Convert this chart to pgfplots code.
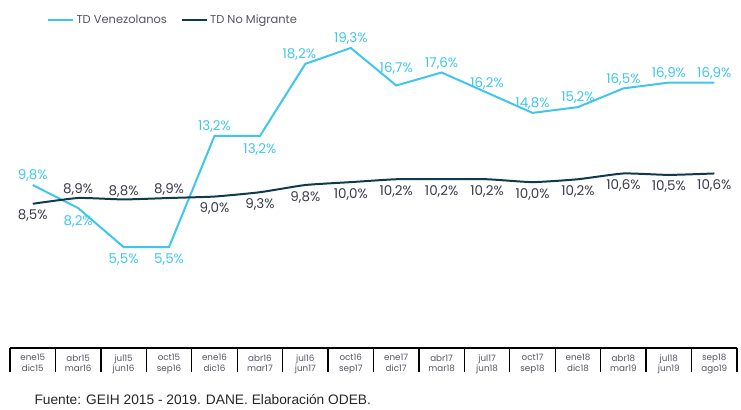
\documentclass[border=0pt]{standalone}
\usepackage{pgfplots}
\pgfplotsset{compat=1.18}
\usepackage{fontspec}
\setmainfont{Poppins}
\newfontfamily\arialf{Liberation Sans}
\definecolor{ven}{HTML}{3FC6EE}
\definecolor{nom}{HTML}{0F3A4C}
\definecolor{nomlab}{HTML}{3A3B4A}
\definecolor{leggray}{HTML}{555560}

\pgfplotstableread{
x y
0 9.8
1 8.2
2 5.5
3 5.5
4 13.2
5 13.2
6 18.2
7 19.3
8 16.7
9 17.6
10 16.2
11 14.8
12 15.2
13 16.5
14 16.9
15 16.9
}\ven
\pgfplotstableread{
x y
0 8.5
1 8.9
2 8.8
3 8.9
4 9.0
5 9.3
6 9.8
7 10.0
8 10.2
9 10.2
10 10.2
11 10.0
12 10.2
13 10.6
14 10.5
15 10.6
}\nom

\pgfplotsset{
  lab/.style={draw=none, forget plot, nodes near coords, point meta=explicit,
    nodes near coords={\pgfmathprintnumber[fixed,fixed zerofill,precision=1,use comma,assume math mode=true]{\pgfplotspointmeta}\%}},
}

\begin{document}
\begin{tikzpicture}[x=1bp,y=1bp]
\path[use as bounding box] (-10,-61) rectangle (731,348);
\begin{axis}[
  at={(0,0)}, anchor=south west,
  scale only axis,
  width=727bp, height=313bp,
  xmin=-0.5, xmax=15.5,
  ymin=-1.5, ymax=20.2,
  /pgf/number format/assume math mode=true,
  axis x line=bottom, axis y line=none,
  axis line style={-, black, line width=1.3pt},
  xtick={0,...,15},
  major tick length=0pt,
  xticklabels={{ene15\\dic15},{abr15\\mar16},{jul15\\jun16},{oct15\\sep16},{ene16\\dic16},{abr16\\mar17},{jul16\\jun17},{oct16\\sep17},{ene17\\dic17},{abr17\\mar18},{jul17\\jun18},{oct17\\sep18},{ene18\\dic18},{abr18\\mar19},{jul18\\jun19},{sep18\\ago19}},
  xticklabel style={align=center, font=\fontsize{8.8}{10.5}\selectfont, text=leggray},
  tick label style={yshift=-3bp},
  extra x ticks={-0.5,0.5,...,15.5},
  extra x tick labels={},
  extra x tick style={tick align=outside, major tick length=24bp, tick style={black, line width=1.3pt}},
  legend style={at={(0.047,1)}, anchor=south west, yshift=6bp, draw=none, fill=none,
    legend columns=2, font=\fontsize{11.5}{13}\selectfont, text=leggray,
    /tikz/every even column/.append style={column sep=12bp},
    /tikz/every odd column/.append style={column sep=0bp}},
  legend cell align=left,
  legend image code/.code={\draw[#1, line width=2.2pt] (0bp,0bp) -- (25bp,0bp);},
  clip=false,
]
\addplot[ven, line width=2pt] table[x=x,y=y] {\ven};
\addlegendentry{TD Venezolanos}
\addplot[nom, line width=2pt, smooth, tension=0.3] table[x=x,y=y] {\nom};
\addlegendentry{TD No Migrante}

% Venezolanos labels above
\addplot[lab,
  every node near coord/.style={anchor=south, text=ven, font=\fontsize{13.5}{15}\selectfont, yshift=2bp, inner sep=1bp}]
  table[x=x,y=y,meta=y] {
x y
0 9.8
4 13.2
7 19.3
9 17.6
10 16.2
11 14.8
12 15.2
13 16.5
14 16.9
15 16.9
};
\addplot[lab,
  every node near coord/.style={anchor=south, text=ven, font=\fontsize{13.5}{15}\selectfont, yshift=2bp, xshift=-6bp, inner sep=1bp}]
  table[x=x,y=y,meta=y] {
x y
6 18.2
};
\addplot[lab,
  every node near coord/.style={anchor=south, text=ven, font=\fontsize{13.5}{15}\selectfont, yshift=10bp, inner sep=1bp}]
  table[x=x,y=y,meta=y] {
x y
8 16.7
};
% Venezolanos labels below
\addplot[lab,
  every node near coord/.style={anchor=north, text=ven, font=\fontsize{13.5}{15}\selectfont, yshift=-6bp, inner sep=1bp}]
  table[x=x,y=y,meta=y] {
x y
1 8.2
2 5.5
3 5.5
5 13.2
};
% No migrante labels above
\addplot[lab,
  every node near coord/.style={anchor=south, text=nomlab, font=\fontsize{13.5}{15}\selectfont, yshift=1bp, inner sep=1bp}]
  table[x=x,y=y,meta=y] {
x y
1 8.9
2 8.8
3 8.9
};
% No migrante labels below
\addplot[lab,
  every node near coord/.style={anchor=north, text=nomlab, font=\fontsize{13.5}{15}\selectfont, yshift=-5bp, inner sep=1bp}]
  table[x=x,y=y,meta=y] {
x y
0 8.5
4 9.0
5 9.3
6 9.8
7 10.0
8 10.2
9 10.2
10 10.2
11 10.0
12 10.2
13 10.6
14 10.5
15 10.6
};
\end{axis}
\node[anchor=west, font=\arialf\fontsize{13.8}{15}\selectfont, text=black!85] at (21,-51) {Fuente: GEIH 2015 - 2019. DANE. Elaboración ODEB.};
\end{tikzpicture}
\end{document}
